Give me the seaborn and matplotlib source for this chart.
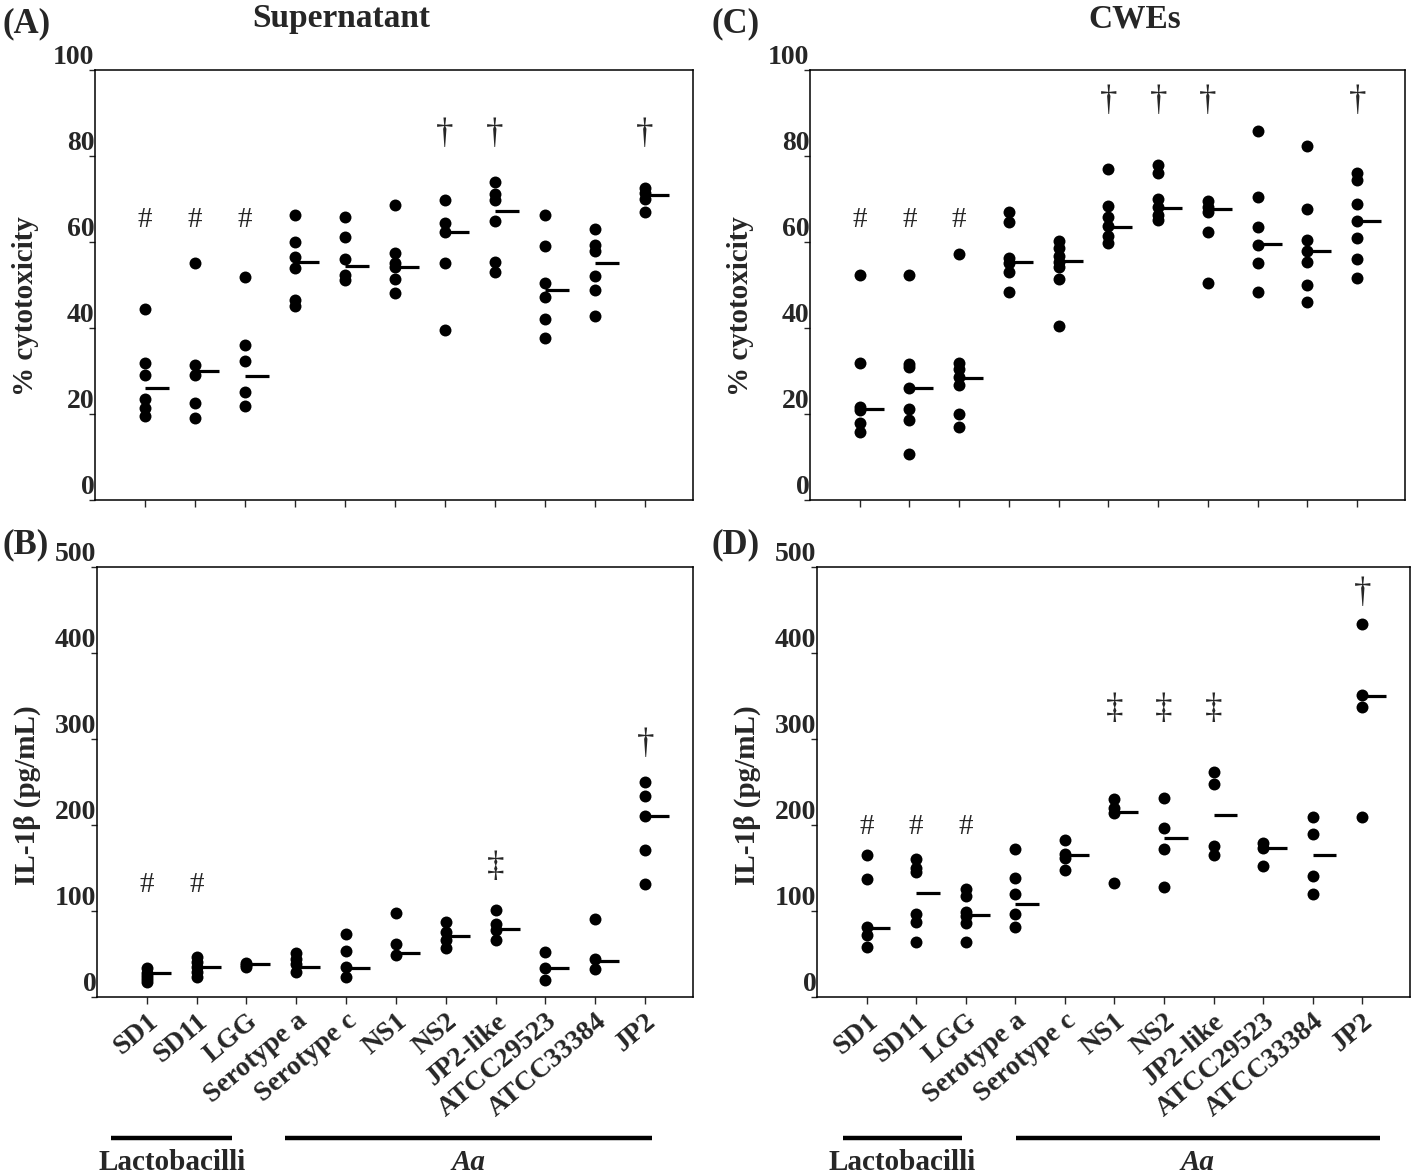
import numpy as np
import pandas as pd
import matplotlib
matplotlib.use('Agg')
import matplotlib.pyplot as plt
import seaborn as sns

strains = ['SD1', 'SD11', 'LGG', 'Serotype a', 'Serotype c', 'NS1', 'NS2',
           'JP2-like', 'ATCC29523', 'ATCC33384', 'JP2']

# (A) supernatant, % cytotoxicity
sup_cyto = [
    [44.4, 31.9, 29.1, 23.4, 21.3, 19.5],
    [55.0, 31.4, 29.1, 22.5, 19.1],
    [51.8, 36.0, 32.4, 25.0, 21.9],
    [66.2, 60.1, 56.6, 53.9, 46.5, 45.0],
    [65.8, 61.1, 56.0, 52.3, 51.2],
    [68.6, 57.4, 55.0, 54.1, 51.3, 48.1],
    [69.8, 64.3, 62.4, 55.2, 39.5],
    [73.9, 71.2, 69.8, 64.8, 55.4, 53.1],
    [66.2, 59.1, 50.4, 47.3, 42.1, 37.7],
    [63.0, 59.3, 58.0, 52.1, 48.8, 42.8],
    [72.5, 71.3, 69.9, 67.0],
]
sup_cyto_mean = [26.1, 30.1, 28.8, 55.3, 54.3, 54.1, 62.4, 67.3, 48.8, 55.0, 70.9]
sup_cyto_sig = ['#', '#', '#', '', '', '', '\u2020', '\u2020', '', '', '\u2020']
sup_cyto_sig_y = {'#': 65.1, '\u2020': 84.9}

# (B) supernatant, IL-1beta
sup_il = [
    [33.4, 28.0, 24.0, 20.5, 17.8],
    [46.9, 41.1, 35.3, 29.5, 23.6],
    [39.5, 37.0, 34.5],
    [50.8, 44.0, 38.0, 29.5],
    [73.3, 53.5, 34.5, 22.9],
    [97.3, 61.6, 48.8],
    [86.8, 75.9, 66.3, 56.6],
    [101.2, 84.5, 77.9, 66.3],
    [52.7, 34.1, 19.8],
    [90.7, 43.8, 32.2],
    [250.3, 234.1, 210.5, 170.9, 131.0],
]
sup_il_mean = [28.3, 35.3, 38.0, 35.3, 34.1, 50.8, 71.3, 78.7, 34.1, 41.9, 210.5]
sup_il_sig = ['#', '#', '', '', '', '', '', '\u2021', '', '', '\u2020']
sup_il_sig_y = {'#': 130, '\u2021': 151, '\u2020': 293}

# (C) CWEs, % cytotoxicity
cwe_cyto = [
    [52.3, 31.9, 21.7, 20.9, 18.0, 15.9],
    [52.3, 31.6, 31.0, 26.0, 21.1, 18.6, 10.7],
    [57.1, 31.8, 30.4, 28.7, 26.7, 20.0, 17.0],
    [67.0, 64.6, 56.2, 55.0, 53.0, 48.3],
    [60.2, 58.7, 56.7, 55.4, 54.1, 51.3, 40.5],
    [77.0, 68.4, 65.7, 63.6, 61.4, 59.8],
    [77.9, 76.1, 69.9, 68.1, 66.3, 65.1],
    [69.6, 68.2, 67.0, 62.3, 50.5],
    [85.7, 70.5, 63.4, 59.3, 55.2, 48.4],
    [82.2, 67.7, 60.5, 58.0, 55.4, 50.0, 46.0],
    [76.0, 74.3, 68.8, 64.9, 61.0, 56.0, 51.6],
]
cwe_cyto_mean = [21.1, 26.0, 28.4, 55.4, 55.6, 63.4, 68.0, 67.6, 59.5, 58.0, 64.9]
cwe_cyto_sig = ['#', '#', '#', '', '', '\u2020', '\u2020', '\u2020', '', '', '\u2020']
cwe_cyto_sig_y = {'#': 65.1, '\u2020': 92.6}

# (D) CWEs, IL-1beta
cwe_il = [
    [165.1, 137.2, 81.8, 72.1, 57.8],
    [160.5, 149.6, 145.7, 96.5, 86.8, 64.3],
    [125.6, 117.4, 99.2, 94.2, 85.7, 64.3],
    [172.1, 138.0, 119.8, 96.2, 81.0],
    [182.6, 166.3, 161.3, 147.7],
    [230.2, 219.4, 214.3, 132.9],
    [231.0, 196.9, 171.7, 128.3],
    [261.3, 247.7, 175.6, 165.1],
    [178.7, 172.9, 152.7],
    [209.7, 189.5, 140.7, 119.4],
    [433.7, 351.2, 337.6, 209.7],
]
cwe_il_mean = [79.9, 121.3, 95.3, 108.1, 165.1, 215.5, 184.5, 211.6, 172.9, 165.1, 350.3]
cwe_il_sig = ['#', '#', '#', '', '', '\u2021', '\u2021', '\u2021', '', '', '\u2020']
cwe_il_sig_y = {'#': 198, '\u2021': 334, '\u2020': 469}

sns.set_style('ticks')
plt.rcParams['font.family'] = ['Liberation Serif', 'DejaVu Serif']
plt.rcParams['font.weight'] = 'bold'
plt.rcParams['axes.linewidth'] = 1.1


def to_long(values):
    rows = []
    for name, vals in zip(strains, values):
        for v in vals:
            rows.append({'strain': name, 'value': v})
    return pd.DataFrame(rows)


def draw_panel(ax, values, means, sig, sig_y, ylim, yticks, ylabel, xlabels, label_y):
    df = to_long(values)
    sns.stripplot(data=df, x='strain', y='value', order=strains, color='black',
                  jitter=False, size=8.6, linewidth=0, ax=ax)
    xs = np.arange(len(strains))
    ax.hlines(means, xs, xs + 0.48, color='black', linewidth=2.3)
    for i, s in enumerate(sig):
        if s:
            size = 21 if s == '#' else 25
            ax.text(i, sig_y[s], s, ha='center', va='center', fontsize=size,
                    fontweight='normal')
    ax.set_xlim(-1.0, 10.96)
    ax.set_ylim(*ylim)
    ax.set_yticks(yticks)
    ax.set_yticklabels([str(t) for t in yticks], fontsize=20, fontweight='bold')
    for lab in ax.get_yticklabels():
        lab.set_verticalalignment('bottom')
    ax.tick_params(axis='y', length=4, width=1, pad=-3.5)
    ax.tick_params(axis='x', length=5, width=1, direction='out')
    ax.set_xticks(xs)
    if xlabels:
        ax.set_xticklabels(strains, rotation=40, ha='right', va='top',
                           rotation_mode='anchor', fontsize=20, fontweight='bold')
    else:
        ax.set_xticklabels([])
    ax.set_xlabel('')
    ax.set_ylabel(ylabel, fontsize=21, fontweight='bold')
    ax.yaxis.set_label_coords(-0.094, label_y)
    for sp in ax.spines.values():
        sp.set_visible(True)
        sp.set_color('black')


def draw_groups(ax, lacto_span, aa_span):
    tr = ax.get_xaxis_transform()
    ax.plot(lacto_span, [-0.328, -0.328], color='black', linewidth=3.2,
            transform=tr, clip_on=False, solid_capstyle='butt')
    ax.plot(aa_span, [-0.328, -0.328], color='black', linewidth=3.2,
            transform=tr, clip_on=False, solid_capstyle='butt')
    ax.text(np.mean(lacto_span), -0.385, 'Lactobacilli', transform=tr,
            ha='center', va='center', fontsize=21, fontweight='bold')
    ax.text(np.mean(aa_span), -0.385, 'Aa', transform=tr, ha='center',
            va='center', fontsize=21, fontweight='bold', fontstyle='italic')


fig = plt.figure(figsize=(14.18, 11.75), dpi=100)
ax_a = fig.add_axes([0.067, 0.5745, 0.4217, 0.366])
ax_b = fig.add_axes([0.0684, 0.1515, 0.4203, 0.366])
ax_c = fig.add_axes([0.5712, 0.5745, 0.4196, 0.366])
ax_d = fig.add_axes([0.5762, 0.1515, 0.418, 0.366])

cyto_ticks = [0, 20, 40, 60, 80, 100]
il_ticks = [0, 100, 200, 300, 400, 500]

draw_panel(ax_a, sup_cyto, sup_cyto_mean, sup_cyto_sig, sup_cyto_sig_y,
           (0, 100), cyto_ticks, '% cytotoxicity', False, 0.45)
draw_panel(ax_b, sup_il, sup_il_mean, sup_il_sig, sup_il_sig_y,
           (0, 500), il_ticks, 'IL-1\u03b2 (pg/mL)', True, 0.47)
draw_panel(ax_c, cwe_cyto, cwe_cyto_mean, cwe_cyto_sig, cwe_cyto_sig_y,
           (0, 100), cyto_ticks, '% cytotoxicity', False, 0.45)
draw_panel(ax_d, cwe_il, cwe_il_mean, cwe_il_sig, cwe_il_sig_y,
           (0, 500), il_ticks, 'IL-1\u03b2 (pg/mL)', True, 0.47)

draw_groups(ax_b, [-0.71, 1.71], [2.78, 10.13])
draw_groups(ax_d, [-0.48, 1.93], [3.01, 10.36])

fig.text(0.002, 0.9796, '(A)', fontsize=25, fontweight='bold', va='center')
fig.text(0.002, 0.536, '(B)', fontsize=25, fontweight='bold', va='center')
fig.text(0.502, 0.9796, '(C)', fontsize=25, fontweight='bold', va='center')
fig.text(0.502, 0.536, '(D)', fontsize=25, fontweight='bold', va='center')
fig.text(0.2405, 0.977, 'Supernatant', fontsize=24, fontweight='bold',
         ha='center', va='baseline')
fig.text(0.800, 0.977, 'CWEs', fontsize=24, fontweight='bold',
         ha='center', va='baseline')

fig.savefig('out.png', dpi=100)
